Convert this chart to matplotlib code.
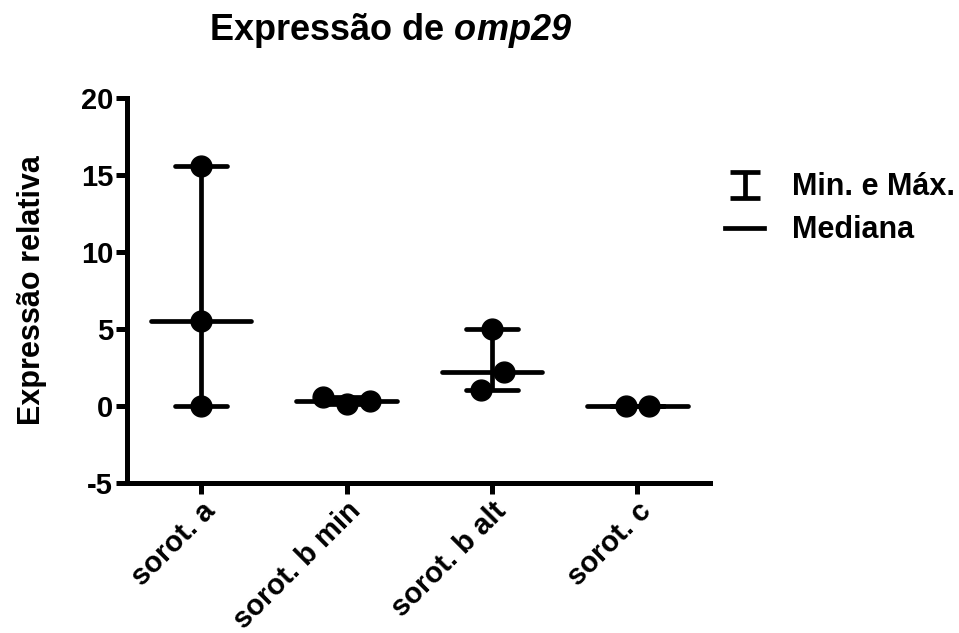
import numpy as np
import matplotlib.pyplot as plt
from matplotlib.lines import Line2D
from matplotlib.path import Path

plt.rcParams['font.family'] = ['Liberation Sans', 'DejaVu Sans']
plt.rcParams['font.weight'] = 'bold'
plt.rcParams['axes.unicode_minus'] = False
plt.rcParams['mathtext.fontset'] = 'custom'
plt.rcParams['mathtext.bfit'] = 'Liberation Sans:italic:bold'

# Expressão relativa de omp29 por sorotipo
categorias = ['sorot. a', 'sorot. b min', 'sorot. b alt', 'sorot. c']
sorot_a = [15.6, 5.5, 0.0]
sorot_b_min = [0.6, 0.15, 0.3]
sorot_b_alt = [5.0, 2.2, 1.05]
sorot_c = [0.0, 0.0]
grupos = [sorot_a, sorot_b_min, sorot_b_alt, sorot_c]

# deslocamento horizontal dos pontos sobrepostos
desloc = [[0, 0, 0], [-0.16, 0, 0.16], [0, 0.085, -0.075], [-0.08, 0.08]]

fig = plt.figure(figsize=(9.59, 6.33), dpi=100)
ax = fig.add_axes([0.1324, 0.237, 0.608, 0.608])

lw = 3.4
cap = 0.18
med_w = 0.345
for i, vals in enumerate(grupos):
    v = np.array(vals)
    lo, hi, med = v.min(), v.max(), np.median(v)
    ax.vlines(i, lo, hi, color='k', lw=lw, zorder=2)
    ax.hlines([lo, hi], i - cap, i + cap, color='k', lw=lw, zorder=2, capstyle='round')
    ax.hlines(med, i - med_w, i + med_w, color='k', lw=lw, zorder=2, capstyle='round')
    ax.plot(np.array(desloc[i]) + i, v, 'o', color='k', ms=15, zorder=3)

ax.set_xlim(-0.51, 3.5)
ax.set_ylim(-5, 20)
ax.set_yticks([-5, 0, 5, 10, 15, 20])
ax.set_xticks(range(len(categorias)))
ax.set_xticklabels(categorias, rotation=45, ha='right', va='top',
                   rotation_mode='anchor', fontsize=21, fontweight='bold')
for lab in ax.get_yticklabels():
    lab.set_fontsize(21)
    lab.set_fontweight('bold')

for s in ['top', 'right']:
    ax.spines[s].set_visible(False)
for s in ['left', 'bottom']:
    ax.spines[s].set_linewidth(3.6)
ax.tick_params(width=3.6, length=8, pad=2)

ax.set_ylabel('Expressão relativa', fontsize=22, fontweight='bold', labelpad=24)
fig.text(0.407, 0.952, r'Expressão de $\mathbfit{omp29}$', ha='center', va='center',
         fontsize=26, fontweight='bold')

# legenda: símbolo de mín./máx. em forma de "I"
simbolo_I = Path([(-1, -0.9), (1, -0.9), (0, -0.9), (0, 0.9), (-1, 0.9), (1, 0.9)],
                 [Path.MOVETO, Path.LINETO, Path.MOVETO, Path.LINETO,
                  Path.MOVETO, Path.LINETO])
minmax = Line2D([], [], ls='none', marker=simbolo_I, ms=21, mfc='none',
                mec='k', mew=3.4)
med_line = Line2D([], [], color='k', lw=3.4)
fig.legend([minmax, med_line], ['Min. e Máx.', 'Mediana'], loc='upper left',
           bbox_to_anchor=(0.727, 0.771), frameon=False, fontsize=22,
           handlelength=1.3, handletextpad=0.9, labelspacing=0.42)

fig.savefig('out.png', dpi=100)
